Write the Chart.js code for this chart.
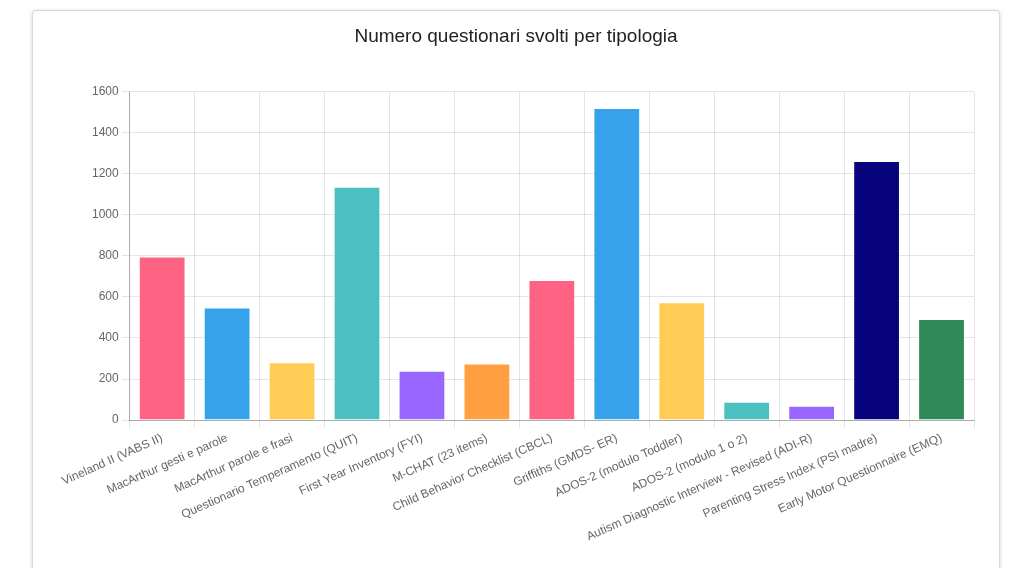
<!DOCTYPE html>
<html>
<head>
<meta charset="utf-8">
<script src="https://cdn.jsdelivr.net/npm/chart.js@4/dist/chart.umd.min.js"></script>
<style>
    body { margin: 0; background: #fff; font-family: 'Liberation Sans', Arial, sans-serif; }
    .card {
        position: absolute; left: 32px; top: 10px; width: 966px; height: 600px;
        border: 1px solid #d8d8d8; border-radius: 4px;
        box-shadow: 0 1px 4px rgba(0, 0, 0, 0.18);
        background: #fff;
    }
    .chart-box { position: relative; width: 966px; height: 557px; }
</style>
</head>
<body>
<div class="card">
    <div class="chart-box"><canvas id="questionari-chart"></canvas></div>
</div>
<script>
// tipologie di questionario
const categories = [
    'Vineland II (VABS II)',
    'MacArthur gesti e parole',
    'MacArthur parole e frasi',
    'Questionario Temperamento (QUIT)',
    'First Year Inventory (FYI)',
    'M-CHAT (23 items)',
    'Child Behavior Checklist (CBCL)',
    'Griffiths (GMDS- ER)',
    'ADOS-2 (modulo Toddler)',
    'ADOS-2 (modulo 1 o 2)',
    'Autism Diagnostic Interview - Revised (ADI-R)',
    'Parenting Stress Index (PSI madre)',
    'Early Motor Questionnaire (EMQ)'
];

// numero di questionari svolti
const counts = [797, 548, 282, 1137, 240, 276, 683, 1521, 574, 89, 70, 1263, 493];

const barColors = [
    '#ff6384', '#36a2eb', '#ffcd56', '#4bc0c0', '#9966ff', '#ff9f40',
    '#ff6384', '#36a2eb', '#ffcd56', '#4bc0c0', '#9966ff', '#06037d', '#2e8b57'
];

const yTicks = [0, 200, 400, 600, 800, 1000, 1200, 1400, 1600];

const fontFamily = "'Liberation Sans', Arial, sans-serif";

const ctx = document.getElementById('questionari-chart').getContext('2d');
new Chart(ctx, {
    type: 'bar',
    data: {
        labels: categories,
        datasets: [{
            label: 'Questionari',
            data: counts,
            backgroundColor: barColors,
            borderColor: 'rgba(255, 255, 255, 0.35)',
            borderWidth: 1
        }]
    },
    options: {
        responsive: true,
        maintainAspectRatio: false,
        animation: false,
        layout: { padding: { top: 5, left: 25, right: 25, bottom: 21 } },
        plugins: {
            legend: { display: false },
            title: {
                display: true,
                text: 'Numero questionari svolti per tipologia',
                color: '#222',
                font: { family: fontFamily, size: 19, weight: 'normal' },
                padding: { top: 9, bottom: 44 }
            },
            tooltip: { enabled: false }
        },
        scales: {
            x: {
                grid: { color: 'rgba(0, 0, 0, 0.1)', tickLength: 8 },
                border: { color: 'rgba(0, 0, 0, 0.25)' },
                ticks: {
                    color: '#666',
                    font: { family: fontFamily, size: 12 },
                    minRotation: 24,
                    maxRotation: 24,
                    autoSkip: false
                }
            },
            y: {
                min: 0,
                max: yTicks[yTicks.length - 1],
                afterBuildTicks: axis => { axis.ticks = yTicks.map(v => ({ value: v })); },
                // spazio extra a sinistra dell'asse
                afterFit: axis => { axis.width += 31; },
                grid: { color: 'rgba(0, 0, 0, 0.1)', tickLength: 8 },
                border: { color: 'rgba(0, 0, 0, 0.25)' },
                ticks: {
                    color: '#666',
                    font: { family: fontFamily, size: 12 },
                    padding: 3,
                    callback: value => String(value)
                }
            }
        }
    }
});
</script>
</body>
</html>
